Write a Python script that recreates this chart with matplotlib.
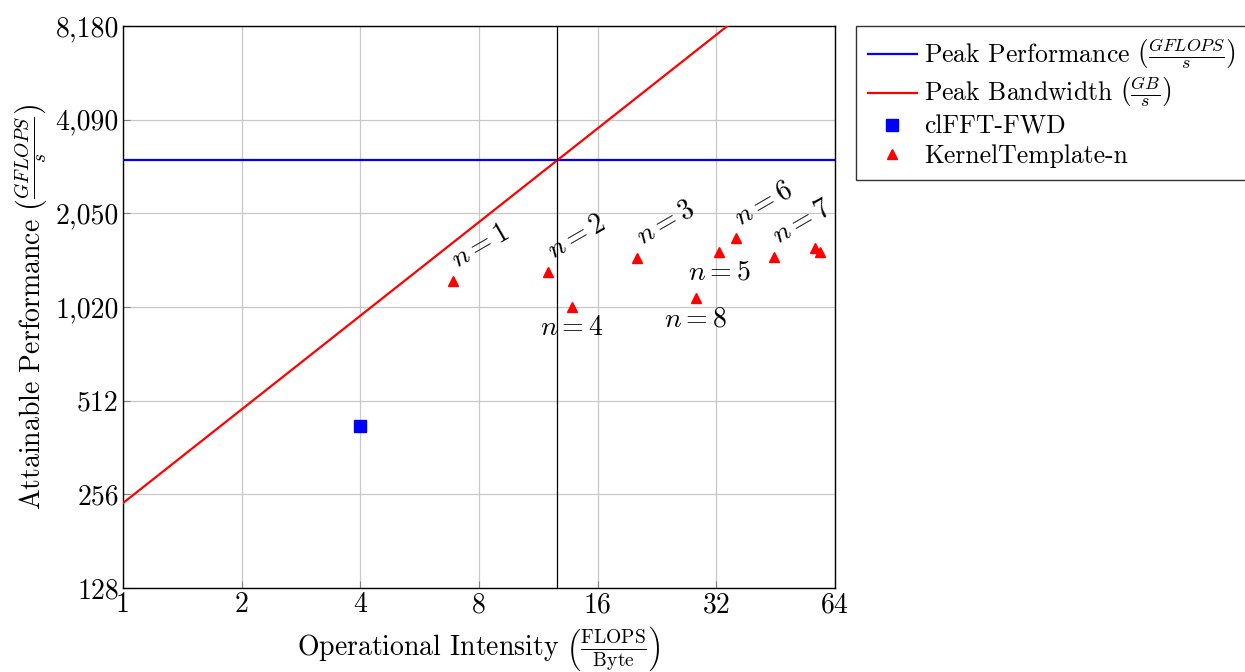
import numpy as np
import matplotlib
matplotlib.use("Agg")
import matplotlib.pyplot as plt
from matplotlib.ticker import FixedLocator, FixedFormatter, NullLocator

plt.rcParams["font.family"] = "serif"
plt.rcParams["font.serif"] = ["cmr10", "DejaVu Serif"]
plt.rcParams["mathtext.fontset"] = "cm"
plt.rcParams["axes.unicode_minus"] = False
plt.rcParams["axes.formatter.use_mathtext"] = True

# Machine limits
peak_gflops = 3030.0
peak_bandwidth = 240.0

# Measured kernels
clfft_oi = [4.0]
clfft_perf = [424.0]

kt_oi = [6.86, 11.99, 13.75, 20.17, 28.37, 32.56, 35.83, 44.82, 56.9, 58.6]
kt_perf = [1241, 1330, 1026, 1475, 1092, 1541, 1702, 1486, 1585, 1538]
kt_labels = ["n = 1", "n = 2", "n = 4", "n = 3", "n = 8", "n = 5", "n = 6", "n = 7", "", ""]

x_ticks = [1, 2, 4, 8, 16, 32, 64]
x_ticklabels = ["1", "2", "4", "8", "16", "32", "64"]
y_ticks = [128, 256, 512, 1024, 2048, 4096, 8192]
y_ticklabels = ["128", "256", "512", "1,020", "2,050", "4,090", "8,180"]

FS = 20
FS_LEG = 18.5

fig = plt.figure(figsize=(12.45, 6.72), dpi=100)
ax = fig.add_axes([123 / 1245, 1 - 588 / 672, (835 - 123) / 1245, (588 - 26) / 672])

ax.set_xscale("log", base=2)
ax.set_yscale("log", base=2)
ax.set_xlim(1, 64)
ax.set_ylim(128, 8192)

ridge = peak_gflops / peak_bandwidth
xs = np.geomspace(1, 64, 200)

ax.axhline(peak_gflops, color="#0000ff", lw=1.6, zorder=3,
           label=r"Peak Performance $\left(\frac{GFLOPS}{s}\right)$")
ax.plot(xs, peak_bandwidth * xs, color="#ff0000", lw=1.6, zorder=3,
        label=r"Peak Bandwidth $\left(\frac{GB}{s}\right)$")
ax.axvline(ridge, color="black", lw=0.9, zorder=3)

ax.plot(clfft_oi, clfft_perf, ls="none", marker="s", ms=8.5, color="#0000ff",
        mec="#0000ff", zorder=4, label="clFFT-FWD")
ax.plot(kt_oi, kt_perf, ls="none", marker="^", ms=7.5, color="#ff0000",
        mec="#ff0000", zorder=4, label="KernelTemplate-n")

below = {"n = 4", "n = 5", "n = 8"}
for x, y, lab in zip(kt_oi, kt_perf, kt_labels):
    if not lab:
        continue
    text = "$" + lab.replace(" ", "") + "$"
    if lab in below:
        ax.annotate(text, (x, y), xytext=(0, -15), textcoords="offset points",
                    ha="center", va="center", fontsize=FS, zorder=5)
    else:
        ax.annotate(text, (x, y), xytext=(20, 25), textcoords="offset points",
                    ha="center", va="center", rotation=30, fontsize=FS, zorder=5)

ax.xaxis.set_major_locator(FixedLocator(x_ticks))
ax.xaxis.set_major_formatter(FixedFormatter(x_ticklabels))
ax.yaxis.set_major_locator(FixedLocator(y_ticks))
ax.yaxis.set_major_formatter(FixedFormatter(y_ticklabels))
ax.xaxis.set_minor_locator(NullLocator())
ax.yaxis.set_minor_locator(NullLocator())
ax.tick_params(axis="both", which="major", direction="in", length=5,
               width=0.8, color="#808080", labelsize=FS, pad=3)

ax.grid(True, color="#c8c8c8", lw=0.9, zorder=1)
ax.set_axisbelow(True)
for sp in ax.spines.values():
    sp.set_linewidth(1.0)
    sp.set_color("black")

ax.set_xlabel(r"Operational Intensity $\left(\frac{\mathrm{FLOPS}}{\mathrm{Byte}}\right)$",
              fontsize=FS, labelpad=4)
ax.set_ylabel(r"Attainable Performance $\left(\frac{GFLOPS}{s}\right)$",
              fontsize=FS, labelpad=5)

leg = ax.legend(loc="upper left", bbox_to_anchor=(1.03, 1.0), borderaxespad=0,
                fontsize=FS_LEG, frameon=True, fancybox=False, edgecolor="black",
                handlelength=1.9, handletextpad=0.3, borderpad=0.45,
                labelspacing=0.22, numpoints=1)
leg.get_frame().set_linewidth(1.0)

fig.savefig("out.png", dpi=100)
